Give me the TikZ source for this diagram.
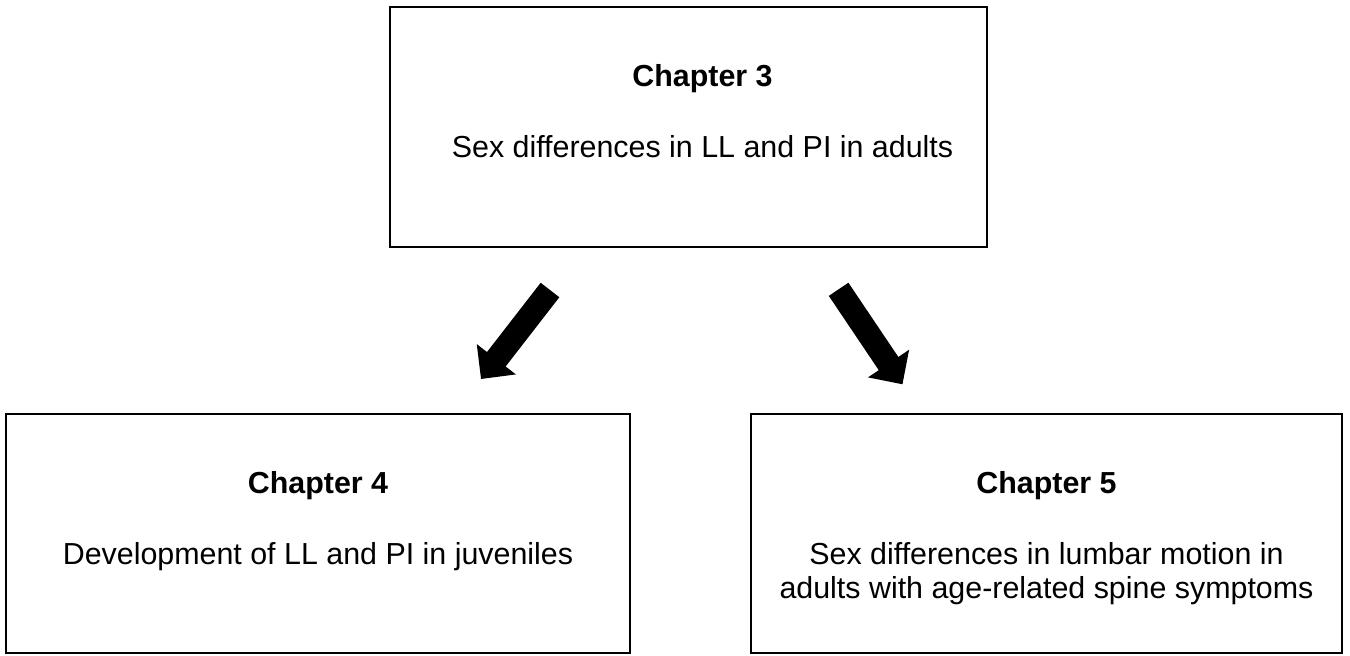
\documentclass[tikz,border=0pt]{standalone}
\usepackage{fontspec}
\setmainfont{Liberation Sans}
\usetikzlibrary{arrows.meta, positioning}
\begin{document}
\begin{tikzpicture}[x=0.5pt, y=-0.5pt,
  every node/.style={font=\fontsize{15.2}{17}\selectfont},
  chbox/.style={draw, line width=1pt, inner sep=0pt, minimum height=119.5pt},
  chtitle/.style={anchor=base, font=\fontsize{15.2}{17}\selectfont\bfseries},
  chtext/.style={anchor=base, align=center},
  bigarrow/.style={line width=11.8pt, -{Triangle[width=24pt, length=12.5pt]}}]
\useasboundingbox (0,0) rectangle (1350,655);
\node[chbox, minimum width=298.5pt, minimum height=120pt] (ch3) at (688.5,127) {};
\node[chbox, minimum width=312pt] (ch4) at (318,533.5) {};
\node[chbox, minimum width=295.5pt] (ch5) at (1046.5,533.5) {};
\node[chtitle] (t3) at ([xshift=7pt, yshift=-40pt]ch3.north) {Chapter 3};
\node[chtext] (d3) at ([yshift=-35.5pt]t3.base) {Sex differences in LL and PI in adults};
\node[chtitle] (t4) at ([yshift=-40pt]ch4.north) {Chapter 4};
\node[chtext] (d4) at ([yshift=-35.5pt]t4.base) {Development of LL and PI in juveniles};
\node[chtitle] (t5) at ([yshift=-40pt]ch5.north) {Chapter 5};
\node[chtext] (d5) at ([yshift=-52.5pt]t5.base) {Sex differences in lumbar motion in\\adults with age-related spine symptoms};
\coordinate (from4) at (550,290);
\coordinate (to4) at (481,379);
\coordinate (from5) at (838.6,289.3);
\coordinate (to5) at (902.5,384.3);
\draw[bigarrow] (from4) -- (to4);
\draw[bigarrow] (from5) -- (to5);
\end{tikzpicture}
\end{document}
